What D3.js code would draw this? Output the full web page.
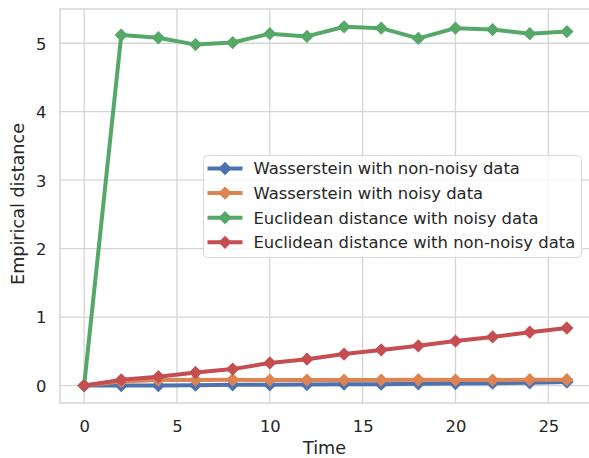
<!DOCTYPE html>
<html>
<head>
<meta charset="utf-8">
<script src="https://cdn.jsdelivr.net/npm/d3@7"></script>
<style>
body { margin: 0; background: #fff; }
text { font-family: "DejaVu Sans", sans-serif; fill: #262626; }
</style>
</head>
<body>
<script>
// tiempo (eje x)
var time = [0, 2, 4, 6, 8, 10, 12, 14, 16, 18, 20, 22, 24, 26];

// series
var wassNonNoisy = [0, 0.0, 0.0, 0.005, 0.01, 0.01, 0.015, 0.02, 0.02, 0.025, 0.03, 0.035, 0.04, 0.05];
var wassNoisy = [0, 0.06, 0.08, 0.08, 0.085, 0.08, 0.08, 0.08, 0.08, 0.085, 0.08, 0.08, 0.085, 0.085];
var euclNoisy = [0, 5.12, 5.08, 4.98, 5.01, 5.14, 5.10, 5.24, 5.22, 5.07, 5.22, 5.20, 5.14, 5.17];
var euclNonNoisy = [0, 0.083, 0.13, 0.19, 0.24, 0.33, 0.385, 0.46, 0.52, 0.58, 0.65, 0.71, 0.78, 0.84];

var seriesNames = ["Wasserstein with non-noisy data", "Wasserstein with noisy data",
                   "Euclidean distance with noisy data", "Euclidean distance with non-noisy data"];
var seriesColors = ["#4c72b0", "#dd8452", "#55a868", "#c44e52"];
var xTicks = [0, 5, 10, 15, 20, 25];
var yTicks = [0, 1, 2, 3, 4, 5];

var vis = {
    width: 589,
    height: 458,
    left: 60,
    right: 591,
    top: 9,
    bottom: 403
};

var svg = d3.select("body").append("svg")
    .attr("width", vis.width)
    .attr("height", vis.height);

var x = d3.scaleLinear().domain([-1.3, 27.3]).range([vis.left, vis.right]);
var y = d3.scaleLinear().domain([-0.255, 5.5]).range([vis.bottom, vis.top]);

// rejilla
svg.append("g").selectAll("line").data(xTicks).enter().append("line")
    .attr("x1", d => x(d)).attr("x2", d => x(d))
    .attr("y1", vis.top).attr("y2", vis.bottom)
    .attr("stroke", "#d5d5d5").attr("stroke-width", 1.3);
svg.append("g").selectAll("line").data(yTicks).enter().append("line")
    .attr("x1", vis.left).attr("x2", vis.right)
    .attr("y1", d => y(d)).attr("y2", d => y(d))
    .attr("stroke", "#d5d5d5").attr("stroke-width", 1.3);

// ejes con d3.axis (sin dominio ni marcas)
var xAxis = svg.append("g")
    .attr("transform", "translate(0," + vis.bottom + ")")
    .call(d3.axisBottom(x).tickValues(xTicks).tickFormat(d3.format("d")).tickSize(0).tickPadding(0));
var yAxis = svg.append("g")
    .attr("transform", "translate(" + vis.left + ",0)")
    .call(d3.axisLeft(y).tickValues(yTicks).tickFormat(d3.format("d")).tickSize(0).tickPadding(13.5));
[xAxis, yAxis].forEach(function(a) {
    a.select(".domain").remove();
    a.selectAll("text").attr("font-size", "16.4px").attr("font-family", "DejaVu Sans").attr("fill", "#262626");
});
xAxis.selectAll("text").attr("y", 29.3).attr("dy", 0);
yAxis.selectAll("text").attr("dy", "0.36em");

// marco
svg.append("rect")
    .attr("x", vis.left).attr("y", vis.top)
    .attr("width", vis.right - vis.left).attr("height", vis.bottom - vis.top)
    .attr("fill", "none").attr("stroke", "#d0d0d0").attr("stroke-width", 1.3);

// lineas y marcadores
var allSeries = [wassNonNoisy, wassNoisy, euclNoisy, euclNonNoisy];
var line = d3.line().x((d, i) => x(time[i])).y(d => y(d));
var diamond = d3.symbol().type(d3.symbolDiamond2).size(80);

allSeries.forEach(function(vals, k) {
    var g = svg.append("g");
    g.append("path").datum(vals)
        .attr("d", line)
        .attr("fill", "none")
        .attr("stroke", seriesColors[k])
        .attr("stroke-width", 4)
        .attr("stroke-linejoin", "round");
    g.selectAll("path.m").data(vals).enter().append("path")
        .attr("class", "m")
        .attr("d", diamond)
        .attr("transform", (d, i) => "translate(" + x(time[i]) + "," + y(d) + ")")
        .attr("fill", seriesColors[k])
        .attr("stroke", seriesColors[k])
        .attr("stroke-width", 1.5)
        .attr("stroke-linejoin", "miter");
});

// etiquetas de los ejes
svg.append("text")
    .attr("x", 324.5)
    .attr("y", 454)
    .attr("text-anchor", "middle")
    .attr("font-size", "17.6px")
    .text("Time");
svg.append("text")
    .attr("transform", "translate(24.3,204) rotate(-90)")
    .attr("text-anchor", "middle")
    .attr("font-size", "17.6px")
    .text("Empirical distance");

// leyenda
var legend = svg.append("g").attr("transform", "translate(203.5,155.5)");
legend.append("rect")
    .attr("width", 378).attr("height", 102)
    .attr("rx", 4)
    .attr("fill", "#fff").attr("fill-opacity", 0.8)
    .attr("stroke", "#d8d8d8").attr("stroke-width", 1);
seriesNames.forEach(function(name, k) {
    var cy = 13 + k * 24.6;
    legend.append("line")
        .attr("x1", 4).attr("x2", 39).attr("y1", cy).attr("y2", cy)
        .attr("stroke", seriesColors[k]).attr("stroke-width", 4);
    legend.append("path")
        .attr("d", diamond)
        .attr("transform", "translate(21.5," + cy + ")")
        .attr("fill", seriesColors[k])
        .attr("stroke", seriesColors[k])
        .attr("stroke-width", 1.5);
    legend.append("text")
        .attr("x", 50).attr("y", cy)
        .attr("dy", "0.36em")
        .attr("font-size", "16.4px")
        .text(name);
});
</script>
</body>
</html>
